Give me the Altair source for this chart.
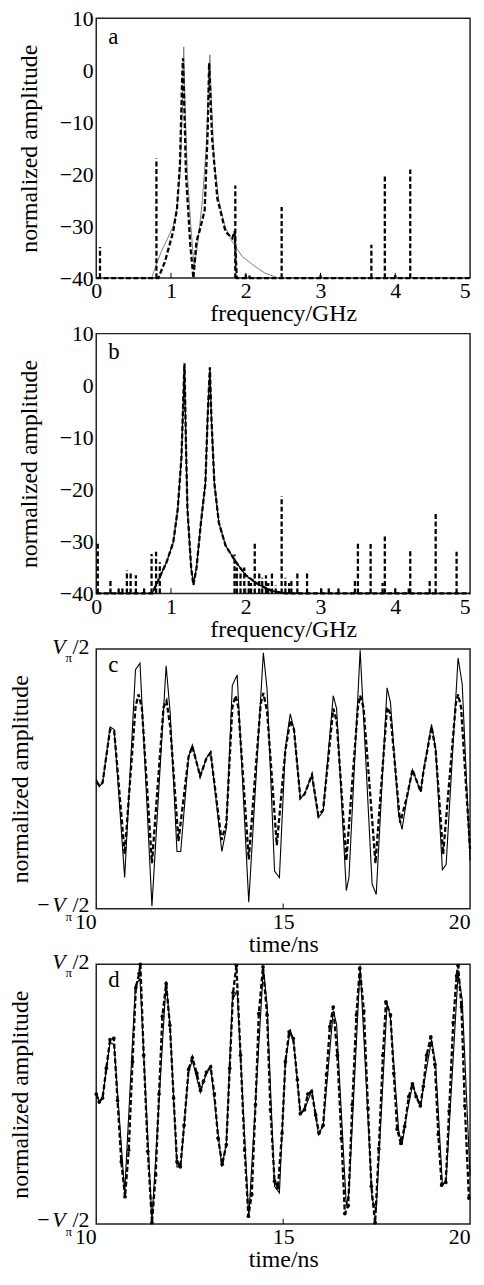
import altair as alt
import pandas as pd

FONT = "Liberation Serif"
W, H = 377, 262

# ---------------- panel a (frequency spectrum) ----------------
A_SOLID_F = [0, 0.74, 0.80, 0.87, 0.95, 1.03, 1.08, 1.12, 1.15, 1.17, 1.19, 1.22, 1.26, 1.31,
             1.36, 1.42, 1.47, 1.50, 1.52, 1.54, 1.58, 1.64, 1.72, 1.82, 1.95, 2.10, 2.25, 2.44, 5.0]
A_SOLID_A = [-40, -40, -37.5, -34.9, -32.5, -30.0, -26.5, -20, -8, 4.5, -8, -20, -29, -38,
             -33, -25, -15, -4, 3.0, -6, -18, -25, -30, -33, -35.8, -37.5, -39, -40, -40]
A_DASH_F = [0, 0.83, 0.92, 1.03, 1.08, 1.12, 1.15, 1.16, 1.18, 1.20, 1.26, 1.30, 1.34, 1.38,
            1.45, 1.49, 1.51, 1.55, 1.62, 1.73, 1.82, 1.85, 1.88, 5.0]
A_DASH_A = [-40, -40, -36.8, -31, -26.6, -18, -1, 2.3, -8, -20, -34, -40, -33, -31,
            -27, -12, 1.4, -13.2, -24.7, -31.1, -32.3, -31, -40, -40]
A_SPIKE_F = [0.05, 0.805, 1.86, 2.00, 2.05, 2.48, 3.00, 3.68, 3.86, 4.00, 4.20]
A_SPIKE_A = [-34, -17, -22.2, -39.3, -39.5, -26.3, -39.4, -33.6, -20.1, -39.4, -19.1]

# ---------------- panel b ----------------
B_F = [0, 0.75, 0.80, 0.94, 1.03, 1.09, 1.14, 1.18, 1.20, 1.22, 1.27, 1.30, 1.34, 1.40,
       1.46, 1.49, 1.52, 1.54, 1.58, 1.64, 1.73, 1.87, 2.0, 2.18, 2.35, 2.53, 5.0]
B_SOLID_A = [-40, -40, -38.4, -34.0, -30.2, -23.8, -13.7, 4.0, -11.2, -23.8, -35.2, -38.1, -35.2, -26.4,
             -18.8, -6.1, 3.4, -6.1, -18.8, -26.4, -30.8, -34.0, -36.5, -38.4, -39.5, -40, -40]
B_DASH_A = [-40, -40, -38.4, -34.0, -30.2, -23.8, -13.7, 4.3, -11.2, -23.8, -35.2, -38.4, -35.2, -26.4,
            -18.8, -6.1, 3.5, -6.1, -18.8, -26.4, -30.8, -34.0, -36.5, -38.4, -39.5, -40, -40]
B_SPIKE_F = [0.02, 0.19, 0.30, 0.35, 0.41, 0.46, 0.53, 0.64, 0.74, 0.80, 0.85, 1.85, 1.88, 1.93,
             1.98, 2.04, 2.07, 2.12, 2.18, 2.22, 2.27, 2.30, 2.35, 2.40, 2.48, 2.53, 2.58, 2.61,
             2.69, 2.82, 3.01, 3.11, 3.24, 3.46, 3.50, 3.67, 3.83, 3.86, 4.00, 4.18, 4.20, 4.46,
             4.54, 4.82]
B_SPIKE_A = [-30, -37.3, -39, -39, -35.6, -36, -36.5, -39, -32.4, -32, -34, -32.5, -35, -36,
             -35, -37, -38, -30.3, -36, -37, -36.5, -38, -35.7, -38.5, -21.3, -37, -38, -37.5,
             -35.7, -35.7, -39, -39, -39, -37.5, -30.3, -30.5, -38, -28.7, -39, -39, -31.4, -37.5,
             -24.5, -32]

# ---------------- panel c / d (time domain) ----------------
C_SOLID_T = [10.00, 10.08, 10.17, 10.37, 10.48, 10.76, 11.05, 11.17, 11.49, 11.87, 11.98, 12.16,
             12.26, 12.47, 12.57, 12.78, 12.95, 13.06, 13.36, 13.48, 13.64, 13.77, 14.08, 14.47,
             14.57, 14.77, 14.90, 15.06, 15.19, 15.29, 15.46, 15.57, 15.77, 15.94, 16.07, 16.34,
             16.43, 16.69, 16.76, 17.06, 17.38, 17.49, 17.78, 17.87, 18.09, 18.18, 18.31, 18.46,
             18.68, 18.75, 18.97, 19.08, 19.26, 19.36, 19.68, 19.79, 20.0]
C_SOLID_V = [0.00, -0.06, -0.03, 0.40, 0.38, -0.76, 0.84, 0.89, -0.98, 0.87, 0.50, -0.56,
             -0.56, 0.17, 0.26, 0.02, 0.16, 0.21, -0.56, -0.38, 0.72, 0.80, -0.95, 0.97,
             0.69, -0.71, -0.76, 0.24, 0.50, 0.38, -0.15, -0.12, 0.03, -0.30, -0.25, 0.64,
             0.54, -0.86, -0.76, 0.99, -0.81, -0.89, 0.70, 0.59, -0.28, -0.39, -0.15, 0.07,
             -0.10, 0.05, 0.42, 0.23, -0.70, -0.66, 0.93, 0.73, -0.63]
C_DASH_T = [10.00, 10.08, 10.17, 10.37, 10.48, 10.76, 11.05, 11.13, 11.22, 11.49, 11.80, 11.88,
            11.98, 12.20, 12.47, 12.57, 12.78, 12.95, 13.06, 13.35, 13.48, 13.64, 13.73, 13.80,
            14.08, 14.40, 14.47, 14.57, 14.83, 15.06, 15.19, 15.29, 15.46, 15.57, 15.77, 15.94,
            16.07, 16.34, 16.43, 16.69, 17.00, 17.06, 17.15, 17.47, 17.78, 17.87, 18.13, 18.31,
            18.46, 18.68, 18.75, 18.97, 19.08, 19.28, 19.62, 19.68, 19.76, 20.0]
C_DASH_V = [-0.02, -0.05, -0.03, 0.38, 0.37, -0.58, 0.55, 0.65, 0.55, -0.65, 0.55, 0.60,
            0.40, -0.48, 0.17, 0.25, 0.02, 0.16, 0.20, -0.47, -0.35, 0.55, 0.64, 0.55,
            -0.62, 0.58, 0.66, 0.52, -0.51, 0.22, 0.45, 0.38, -0.15, -0.12, 0.03, -0.28,
            -0.24, 0.54, 0.45, -0.63, 0.55, 0.64, 0.55, -0.65, 0.55, 0.50, -0.34, -0.14,
            0.07, -0.10, 0.05, 0.40, 0.22, -0.58, 0.58, 0.65, 0.55, -0.54]

D_DASH_T = [10.00, 10.08, 10.17, 10.27, 10.37, 10.47, 10.57, 10.67, 10.77, 10.87, 10.97, 11.06,
            11.15, 11.18, 11.27, 11.38, 11.49, 11.59, 11.68, 11.77, 11.87, 11.97, 12.07, 12.16,
            12.25, 12.35, 12.47, 12.57, 12.69, 12.79, 12.87, 12.95, 13.06, 13.16, 13.26, 13.37,
            13.48, 13.57, 13.66, 13.75, 13.86, 13.97, 14.07, 14.16, 14.26, 14.35, 14.46, 14.57,
            14.66, 14.77, 14.86, 14.97, 15.06, 15.16, 15.27, 15.38, 15.46, 15.57, 15.66, 15.76,
            15.87, 15.96, 16.07, 16.16, 16.25, 16.34, 16.45, 16.56, 16.65, 16.74, 16.85, 16.96,
            17.05, 17.16, 17.27, 17.36, 17.46, 17.56, 17.67, 17.75, 17.87, 17.96, 18.05, 18.15,
            18.25, 18.36, 18.46, 18.56, 18.67, 18.75, 18.84, 18.95, 19.06, 19.15, 19.24, 19.35,
            19.44, 19.55, 19.64, 19.68, 19.77, 19.86, 19.97]
D_DASH_V = [0.00, -0.06, -0.03, 0.20, 0.42, 0.43, -0.05, -0.52, -0.79, -0.43, 0.25, 0.82,
            0.93, 1.00, 0.30, -0.44, -0.99, -0.62, 0.00, 0.60, 0.85, 0.53, -0.03, -0.52,
            -0.56, -0.24, 0.19, 0.28, 0.16, 0.03, 0.10, 0.17, 0.21, 0.00, -0.34, -0.54,
            -0.39, 0.20, 0.78, 0.99, 0.30, -0.43, -0.94, -0.77, -0.08, 0.62, 0.98, 0.61,
            -0.12, -0.67, -0.72, -0.30, 0.25, 0.48, 0.43, 0.11, -0.15, -0.12, 0.00, 0.02,
            -0.16, -0.30, -0.24, 0.15, 0.52, 0.67, 0.30, -0.34, -0.92, -0.86, -0.08, 0.61,
            0.97, 0.64, -0.11, -0.71, -0.99, -0.42, 0.30, 0.71, 0.61, 0.16, -0.27, -0.38,
            -0.25, -0.02, 0.08, -0.02, -0.09, 0.06, 0.30, 0.44, 0.23, -0.31, -0.70, -0.68,
            -0.13, 0.55, 0.91, 0.99, 0.67, -0.09, -0.80]

FREQ_TICKS = [0, 1, 2, 3, 4, 5]
AMP_TICKS = [-40, -30, -20, -10, 0, 10]
TIME_TICKS = [10, 15, 20]

DASH = [5, 2.5]
EMPTY = alt.Data(values=[{}])


def letter_layer(text, x0, y1, dx, dy):
    return alt.Chart(EMPTY).mark_text(
        text=text, font=FONT, fontSize=23, align="left", baseline="alphabetic",
        dx=dx, dy=dy, color="black"
    ).encode(x=alt.datum(x0), y=alt.datum(y1))


def freq_panel(letter, solid_f, solid_a, solid_color, solid_w, dash_f, dash_a, spk_f, spk_a):
    xs = alt.Scale(domain=[0, 5], nice=False, zero=False)
    ys = alt.Scale(domain=[-40, 10], nice=False, zero=False)
    xax = alt.Axis(values=FREQ_TICKS, title="frequency/GHz", labelFlush=False, format="d",
                   labelAlign={"condition": {"test": "datum.value >= 5", "value": "right"}, "value": "center"})
    yax = alt.Axis(values=AMP_TICKS, title="normalized amplitude", labelFlush=False, format="d",
                   titlePadding=18)
    X = alt.X("f:Q", scale=xs, axis=xax)
    Y = alt.Y("a:Q", scale=ys, axis=yax)

    solid = alt.Chart(pd.DataFrame({"f": solid_f, "a": solid_a})).mark_line(
        color=solid_color, strokeWidth=solid_w).encode(x=X, y=Y)
    dashed = alt.Chart(pd.DataFrame({"f": dash_f, "a": dash_a})).mark_line(
        color="black", strokeWidth=2.3, strokeDash=DASH).encode(x=X, y=Y)
    spikes = alt.Chart(pd.DataFrame({"f": spk_f, "a": [-40] * len(spk_f), "a2": spk_a})).mark_rule(
        color="black", strokeWidth=2.3, strokeDash=DASH).encode(x=X, y=Y, y2="a2:Q")
    ticks = alt.Chart(pd.DataFrame({"f": FREQ_TICKS[1:-1], "a": [-40] * 4, "a2": [-39] * 4})).mark_rule(
        color="black", strokeWidth=1).encode(x=X, y=Y, y2="a2:Q")
    lt = letter_layer(letter, 0, 10, 12, 26)
    return alt.layer(ticks, solid, dashed, spikes, lt).properties(width=W, height=H)


def vlabel_layers():
    base = dict(font=FONT, color="black", baseline="alphabetic")
    out = []
    for v, dy_main, dy_sub, minus in [(1, 5, 13, False), (-1, 3, 12, True)]:
        out.append(alt.Chart(EMPTY).mark_text(text="V", fontStyle="italic", fontSize=22, align="right",
                                              dx=-31, dy=dy_main, **base).encode(x=alt.datum(10), y=alt.datum(v)))
        out.append(alt.Chart(EMPTY).mark_text(text="π", fontSize=13, align="left",
                                              dx=-31, dy=dy_sub, **base).encode(x=alt.datum(10), y=alt.datum(v)))
        out.append(alt.Chart(EMPTY).mark_text(text="/2", fontSize=22, align="left",
                                              dx=-24, dy=dy_main, **base).encode(x=alt.datum(10), y=alt.datum(v)))
        if minus:
            out.append(alt.Chart(EMPTY).mark_text(text="−", fontSize=22, align="right",
                                                  dx=-47, dy=dy_main, **base).encode(x=alt.datum(10), y=alt.datum(v)))
    return out


def time_panel(letter, solid_t, solid_v, dash_t, dash_v, markers):
    xs = alt.Scale(domain=[10, 20], nice=False, zero=False)
    ys = alt.Scale(domain=[-1, 1], nice=False, zero=False)
    xax = alt.Axis(values=TIME_TICKS, title="time/ns", labelFlush=False, format="d",
                   labelAlign={"condition": [{"test": "datum.value <= 10", "value": "right"},
                                             {"test": "datum.value >= 20", "value": "right"}],
                               "value": "center"})
    yax = alt.Axis(values=[-1, 1], title="normalized amplitude", labels=False, titlePadding=64)
    X = alt.X("t:Q", scale=xs, axis=xax)
    Y = alt.Y("v:Q", scale=ys, axis=yax)
    solid = alt.Chart(pd.DataFrame({"t": solid_t, "v": solid_v})).mark_line(
        color="black", strokeWidth=1.1).encode(x=X, y=Y)
    ddf = pd.DataFrame({"t": dash_t, "v": dash_v})
    dashed = alt.Chart(ddf).mark_line(
        color="black", strokeWidth=2.3, strokeDash=DASH).encode(x=X, y=Y)
    ticks = alt.Chart(pd.DataFrame({"t": [15], "v": [-1], "v2": [-0.96]})).mark_rule(
        color="black", strokeWidth=1).encode(x=X, y=Y, y2="v2:Q")
    layers = [ticks, solid, dashed]
    if markers:
        layers.append(alt.Chart(ddf).mark_point(filled=True, color="black", size=14, opacity=1).encode(x=X, y=Y))
    layers.append(letter_layer(letter, 10, 1, 12, 23))
    layers += vlabel_layers()
    return alt.layer(*layers).properties(width=W, height=H)


pa = freq_panel("a", A_SOLID_F, A_SOLID_A, "#808080", 1.0, A_DASH_F, A_DASH_A, A_SPIKE_F, A_SPIKE_A)
pb = freq_panel("b", B_F, B_SOLID_A, "black", 1.2, B_F, B_DASH_A, B_SPIKE_F, B_SPIKE_A)
pc = time_panel("c", C_SOLID_T, C_SOLID_V, C_DASH_T, C_DASH_V, False)
pdd = time_panel("d", C_SOLID_T, C_SOLID_V, D_DASH_T, D_DASH_V, True)

chart = alt.vconcat(pa, pb, pc, pdd, spacing=56, bounds="flush").properties(
    padding={"left": 0, "top": -7, "right": 0, "bottom": -5}
).configure_view(
    stroke="#222", strokeWidth=1.5
).configure_axis(
    labelFont=FONT, labelFontSize=22, titleFont=FONT, titleFontSize=24, titleFontWeight="normal",
    labelColor="black", titleColor="black", grid=False, domain=False, ticks=False, tickSize=0,
    labelPadding=3, titlePadding=0
)

chart.save("out.html", embed_options={"renderer": "svg", "actions": False})
